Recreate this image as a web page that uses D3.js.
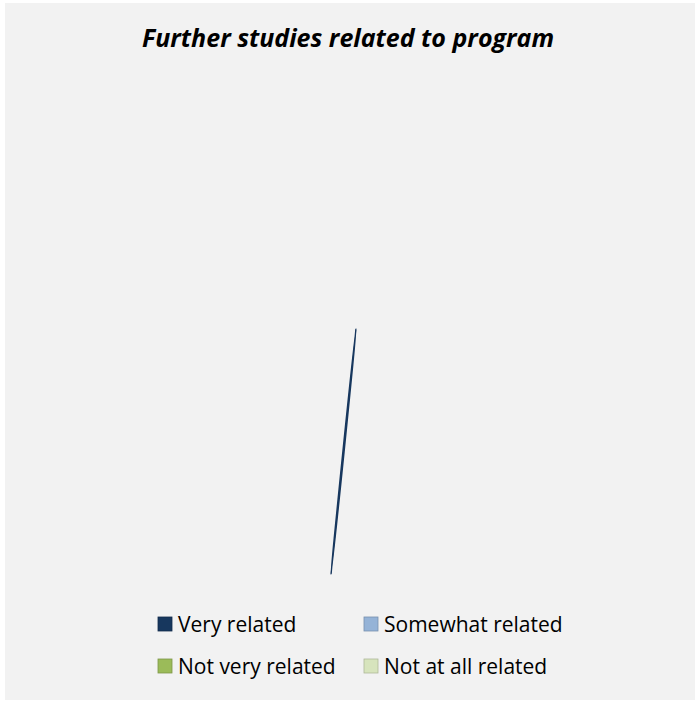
<!DOCTYPE html>
<html lang="en">
<head>
<meta charset="utf-8">
<title>Further studies related to program</title>
<script src="https://cdn.jsdelivr.net/npm/d3@7"></script>
<style>
  body { margin: 0; background: #fff; }
  text { font-family: "Open Sans", "Noto Sans", sans-serif; fill: #000; }
</style>
</head>
<body>
<div id="chart"></div>
<script>
// data
var categories = ["Very related", "Somewhat related", "Not very related", "Not at all related"];
var values = [100, 0, 0, 0];
var colors = ["#17375e", "#95b3d7", "#9bbb59", "#d7e4bd"];
var chartTitle = "Further studies related to program";

var width = 695, height = 702;

var svg = d3.select("#chart").append("svg")
  .attr("width", width)
  .attr("height", height);

// chart area
svg.append("rect")
  .attr("x", 5).attr("y", 3)
  .attr("width", 690).attr("height", 697)
  .attr("fill", "#f2f2f2");

svg.append("text")
  .attr("x", 348).attr("y", 47)
  .attr("text-anchor", "middle")
  .style("font-size", "25px")
  .style("font-weight", "bold")
  .style("font-style", "italic")
  .text(chartTitle);

// pie (drawn edge-on, as in the original)
var radius = 123.5;
var pie = d3.pie().sort(null).value(d => d.value);
var arc = d3.arc().innerRadius(0).outerRadius(radius);
var slices = pie(categories.map((c, i) => ({ name: c, value: values[i], color: colors[i] })));

var g = svg.append("g")
  .attr("transform", "translate(343.5,451.5) rotate(5.8) scale(0.004,1)");

g.selectAll("path")
  .data(slices.filter(d => d.data.value > 0))
  .enter().append("path")
  .attr("d", arc)
  .attr("fill", d => d.data.color)
  .attr("stroke", d => d.data.color)
  .attr("stroke-width", 1.6)
  .attr("vector-effect", "non-scaling-stroke");

// legend
var colX = [158, 364], rowY = [617, 659];
var legend = svg.selectAll(".legend")
  .data(categories)
  .enter().append("g")
  .attr("class", "legend")
  .attr("transform", (d, i) => "translate(" + colX[i % 2] + "," + rowY[Math.floor(i / 2)] + ")");

legend.append("rect")
  .attr("width", 14).attr("height", 14)
  .attr("fill", (d, i) => colors[i])
  .attr("stroke", (d, i) => d3.color(colors[i]).darker(0.6))
  .attr("stroke-width", 0.8);

legend.append("text")
  .attr("x", 20).attr("y", 14.5)
  .style("font-size", "21px")
  .text(d => d);
</script>
</body>
</html>
